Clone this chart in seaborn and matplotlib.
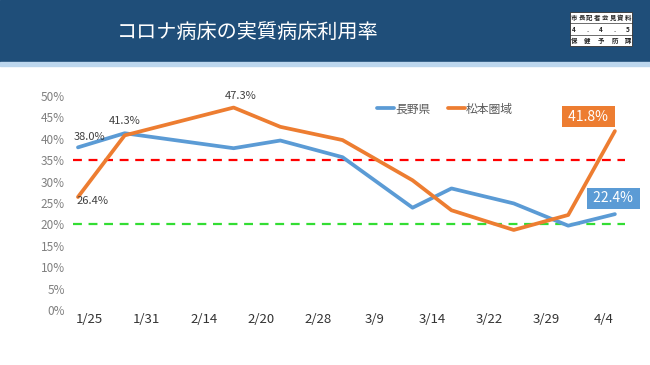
import numpy as np
import pandas as pd
import matplotlib
matplotlib.use("Agg")
import matplotlib.pyplot as plt
import seaborn as sns
from matplotlib.patches import Rectangle

# data
DATES = ["2022-01-25", "2022-01-31", "2022-02-14", "2022-02-20", "2022-02-28",
         "2022-03-09", "2022-03-14", "2022-03-22", "2022-03-29", "2022-04-04"]
NAGANO = [38.0, 41.3, 37.8, 39.6, 35.7, 23.9, 28.4, 24.9, 19.7, 22.4]
MATSUMOTO = [26.4, 40.8, 47.3, 42.8, 39.7, 30.3, 23.3, 18.7, 22.2, 41.8]
TICK_LABELS = ["1/25", "1/31", "2/14", "2/20", "2/28", "3/9", "3/14", "3/22", "3/29", "4/4"]
SERIES = ["長野県", "松本圏域"]
RED_LINE = 35
GREEN_LINE = 20

BLUE = "#5b9bd5"
ORANGE = "#ed7d31"
HEADER = "#1f4e79"

sns.set_style("white")
plt.rcParams["font.family"] = ["Noto Sans CJK JP", "DejaVu Sans"]

dates = pd.to_datetime(DATES)
days = (dates - dates[0]).days.values

df = pd.DataFrame({
    "day": np.concatenate([days, days]),
    "rate": NAGANO + MATSUMOTO,
    "area": [SERIES[0]] * len(days) + [SERIES[1]] * len(days),
})

fig = plt.figure(figsize=(6.5, 3.65), dpi=100)

# header band
fig.patches.append(Rectangle((0, 1 - 62 / 365), 1, 62 / 365, transform=fig.transFigure,
                             color=HEADER, zorder=0))
fig.patches.append(Rectangle((0, 1 - 66 / 365), 1, 4 / 365, transform=fig.transFigure,
                             color="#bdd7ee", zorder=0))
fig.text(248 / 650, 1 - 32 / 365, "コロナ病床の実質病床利用率", color="white",
         fontsize=14.5, ha="center", va="center")

# small stamp box top right
bx, by, bw, bh = 570 / 650, 1 - 46 / 365, 62 / 650, 34 / 365
fig.patches.append(Rectangle((bx, by), bw, bh, transform=fig.transFigure,
                             facecolor="white", edgecolor="#333333", lw=0.6, zorder=1))
stamp_rows = [list("市長記者会見資料"), ["4", ".", "4", ".", "5"], list("保健予防課")]
for i, row in enumerate(stamp_rows):
    yc = by + bh * (5 - 2 * i) / 6
    xs = np.linspace(bx + 0.006, bx + bw - 0.006, len(row))
    for xc, ch in zip(xs, row):
        fig.text(xc, yc, ch, fontsize=4.6, fontweight="bold",
                 ha="center", va="center", color="#222222", zorder=2)
    if i > 0:
        fig.lines.append(plt.Line2D([bx, bx + bw], [by + bh * (3 - i) / 3] * 2,
                                    transform=fig.transFigure, color="#333333", lw=0.5))

ax = fig.add_axes([73 / 650, 55 / 365, 552 / 650, 214 / 365])
sns.lineplot(data=df, x="day", y="rate", hue="area", palette=[BLUE, ORANGE],
             linewidth=2.7, ax=ax, legend=True)

ax.axhline(RED_LINE, color="#ff0000", ls=(0, (4, 3)), lw=1.6, zorder=1)
ax.axhline(GREEN_LINE, color="#33dd33", ls=(0, (4, 3)), lw=1.6, zorder=1)

ax.set_xlim(-0.64, 70.3)
ax.set_ylim(0, 50)
ax.set_yticks(np.arange(0, 51, 5))
ax.set_yticklabels([f"{v}%" for v in range(0, 51, 5)], color="#808080", fontsize=8.5)
ax.set_xticks(np.linspace(1.5, 67.5, len(TICK_LABELS)))
ax.set_xticklabels(TICK_LABELS, fontsize=9.5, color="#333333")
ax.tick_params(axis="both", length=0)
ax.tick_params(axis="x", pad=2)
ax.tick_params(axis="y", pad=6)
ax.set_xlabel("")
ax.set_ylabel("")
sns.despine(ax=ax, left=True, bottom=True)

leg = ax.legend(loc="center", bbox_to_anchor=(445 / 650, 1 - 109 / 365),
                bbox_transform=fig.transFigure, ncol=2, frameon=False, fontsize=8.5,
                handlelength=1.4, handletextpad=0.1, columnspacing=1.5)
for t in leg.get_texts():
    t.set_color("#595959")

# value labels
lab = dict(fontsize=8, color="#404040", ha="center", va="center")
ax.text(days[0] + 1.5, NAGANO[0] + 2.4, f"{NAGANO[0]:.1f}%", **lab)
ax.text(days[1], NAGANO[1] + 2.8, f"{NAGANO[1]:.1f}%", **lab)
ax.text(days[0] + 1.9, MATSUMOTO[0] - 0.9, f"{MATSUMOTO[0]:.1f}%", **lab)
ax.text(days[2] + 0.9, MATSUMOTO[2] + 2.7, f"{MATSUMOTO[2]:.1f}%", **lab)
ax.text(days[-1] - 3.4, MATSUMOTO[-1] + 3.3, f" {MATSUMOTO[-1]:.1f}% ", fontsize=10,
        color="white", ha="center", va="center",
        bbox=dict(boxstyle="square,pad=0.25", fc=ORANGE, ec="none"))
ax.text(days[-1] - 0.2, NAGANO[-1] + 3.7, f" {NAGANO[-1]:.1f}% ", fontsize=10,
        color="white", ha="center", va="center", clip_on=False,
        bbox=dict(boxstyle="square,pad=0.25", fc=BLUE, ec="none"))

fig.savefig("out.png", dpi=100)
